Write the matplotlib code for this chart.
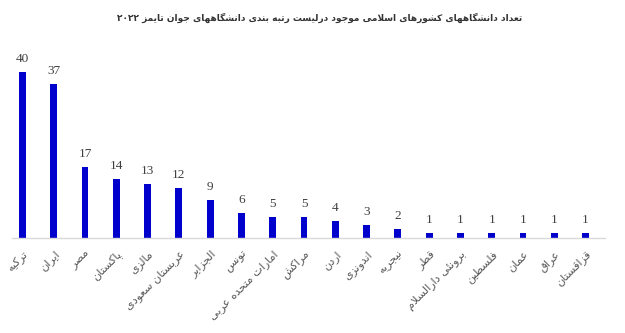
import re
import matplotlib
matplotlib.use("Agg")
import matplotlib.pyplot as plt
import matplotlib.transforms as mtransforms

title = "تعداد دانشگاههای کشورهای اسلامی موجود درلیست رتبه بندی دانشگاههای جوان تایمز ۲۰۲۲"
countries = ["ترکیه", "ایران", "مصر", "پاکستان", "مالزی", "عربستان سعودی", "الجزایر",
             "تونس", "امارات متحده عربی", "مراکش", "اردن", "اندونزی", "نیجریه", "قطر",
             "برونئی دارالسلام", "فلسطین", "عمان", "عراق", "قزاقستان"]
counts = [40, 37, 17, 14, 13, 12, 9, 6, 5, 5, 4, 3, 2, 1, 1, 1, 1, 1, 1]

# ---- minimal Arabic/Persian shaping (presentation forms) + visual ordering ----
FORMS = {
    'ء': (0xFE80,), 'آ': (0xFE81, 0xFE82), 'أ': (0xFE83, 0xFE84), 'ؤ': (0xFE85, 0xFE86),
    'إ': (0xFE87, 0xFE88), 'ئ': (0xFE89, 0xFE8A, 0xFE8B, 0xFE8C), 'ا': (0xFE8D, 0xFE8E),
    'ب': (0xFE8F, 0xFE90, 0xFE91, 0xFE92), 'ة': (0xFE93, 0xFE94),
    'ت': (0xFE95, 0xFE96, 0xFE97, 0xFE98), 'ث': (0xFE99, 0xFE9A, 0xFE9B, 0xFE9C),
    'ج': (0xFE9D, 0xFE9E, 0xFE9F, 0xFEA0), 'ح': (0xFEA1, 0xFEA2, 0xFEA3, 0xFEA4),
    'خ': (0xFEA5, 0xFEA6, 0xFEA7, 0xFEA8), 'د': (0xFEA9, 0xFEAA), 'ذ': (0xFEAB, 0xFEAC),
    'ر': (0xFEAD, 0xFEAE), 'ز': (0xFEAF, 0xFEB0), 'س': (0xFEB1, 0xFEB2, 0xFEB3, 0xFEB4),
    'ش': (0xFEB5, 0xFEB6, 0xFEB7, 0xFEB8), 'ص': (0xFEB9, 0xFEBA, 0xFEBB, 0xFEBC),
    'ض': (0xFEBD, 0xFEBE, 0xFEBF, 0xFEC0), 'ط': (0xFEC1, 0xFEC2, 0xFEC3, 0xFEC4),
    'ظ': (0xFEC5, 0xFEC6, 0xFEC7, 0xFEC8), 'ع': (0xFEC9, 0xFECA, 0xFECB, 0xFECC),
    'غ': (0xFECD, 0xFECE, 0xFECF, 0xFED0), 'ف': (0xFED1, 0xFED2, 0xFED3, 0xFED4),
    'ق': (0xFED5, 0xFED6, 0xFED7, 0xFED8), 'ك': (0xFED9, 0xFEDA, 0xFEDB, 0xFEDC),
    'ل': (0xFEDD, 0xFEDE, 0xFEDF, 0xFEE0), 'م': (0xFEE1, 0xFEE2, 0xFEE3, 0xFEE4),
    'ن': (0xFEE5, 0xFEE6, 0xFEE7, 0xFEE8), 'ه': (0xFEE9, 0xFEEA, 0xFEEB, 0xFEEC),
    'و': (0xFEED, 0xFEEE), 'ى': (0xFEEF, 0xFEF0), 'ي': (0xFEF1, 0xFEF2, 0xFEF3, 0xFEF4),
    'پ': (0xFB56, 0xFB57, 0xFB58, 0xFB59), 'چ': (0xFB7A, 0xFB7B, 0xFB7C, 0xFB7D),
    'ژ': (0xFB8A, 0xFB8B), 'ک': (0xFB8E, 0xFB8F, 0xFB90, 0xFB91),
    'گ': (0xFB92, 0xFB93, 0xFB94, 0xFB95), 'ی': (0xFBFC, 0xFBFD, 0xFBFE, 0xFBFF),
}


def dual(c):
    return c in FORMS and len(FORMS[c]) == 4


def shape(text):
    out = []
    chars = list(text)
    i = 0
    n = len(chars)
    while i < n:
        c = chars[i]
        prev = chars[i - 1] if i > 0 else ''
        jp = dual(prev)
        if c == 'ل' and i + 1 < n and chars[i + 1] == 'ا':
            out.append(chr(0xFEFC if jp else 0xFEFB))
            i += 2
            continue
        if c in FORMS:
            f = FORMS[c]
            nxt = chars[i + 1] if i + 1 < n else ''
            jn = len(f) == 4 and nxt in FORMS
            if jp and jn:
                out.append(chr(f[3]))
            elif jp:
                out.append(chr(f[1]))
            elif jn:
                out.append(chr(f[2]))
            else:
                out.append(chr(f[0]))
        else:
            out.append(c)
        i += 1
    vis = ''.join(out)[::-1]
    vis = re.sub(r'[0-9\u06F0-\u06F9]+', lambda m: m.group(0)[::-1], vis)
    return vis


fig = plt.figure(figsize=(6.25, 3.33), dpi=100)
W, H = 625, 333
ax_left, ax_right, ax_bottom, ax_top = 12, 605, 333 - 237.5, 333 - 45
ax = fig.add_axes([ax_left / W, ax_bottom / H, (ax_right - ax_left) / W, (ax_top - ax_bottom) / H])

x = list(range(len(counts)))
bars = ax.bar(x, counts, width=0.22, color='#0000CD')
spacing = 31.3
ax.set_xlim(-(22.5 - ax_left) / spacing, 18 + (ax_right - 585.5) / spacing)
ax.set_ylim(0, (ax_top - ax_bottom) / 4.15)

for xi, v in zip(x, counts):
    ax.annotate(str(v), (xi, v), xytext=(0, 5), textcoords='offset points',
                ha='center', va='bottom', fontsize=9.5, family='Liberation Serif',
                color='#404040')

ax.set_xticks(x)
ax.set_xticklabels([shape(c) for c in countries], rotation=45, ha='right',
                   rotation_mode='anchor', fontsize=8.1, color='#595959',
                   family='DejaVu Sans')
offset = mtransforms.ScaledTranslation(10 / 100, -4 / 100, fig.dpi_scale_trans)
for lbl in ax.get_xticklabels():
    lbl.set_transform(lbl.get_transform() + offset)
ax.tick_params(axis='x', length=0, pad=8)
ax.tick_params(axis='y', left=False, labelleft=False)
for s in ['top', 'right', 'left']:
    ax.spines[s].set_visible(False)
ax.spines['bottom'].set_color('#d9d9d9')
ax.spines['bottom'].set_linewidth(1.0)

fig.text(0.511, 1 - 18 / H, shape(title), ha='center', va='center', fontsize=6.5,
         fontweight='bold', color='#333333', family='DejaVu Sans')

fig.savefig('out.png', dpi=100)
